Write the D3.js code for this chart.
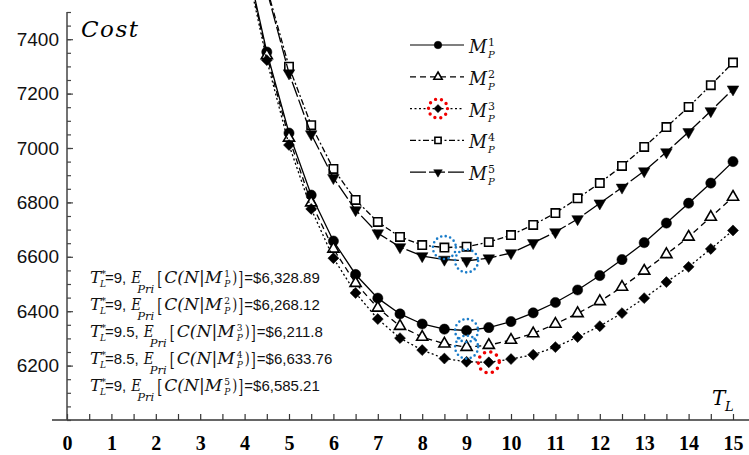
<!DOCTYPE html>
<html>
<head>
<meta charset="utf-8">
<script src="https://cdn.jsdelivr.net/npm/d3@7"></script>
<style>
body { margin: 0; background: #fff; }
</style>
</head>
<body>
<script>
// canvas size
var w = 749;
var h = 455;

// T_L values, step 0.5
var tl = [4, 4.5, 5, 5.5, 6, 6.5, 7, 7.5, 8, 8.5, 9, 9.5, 10, 10.5, 11, 11.5, 12, 12.5, 13, 13.5, 14, 14.5, 15];
// cost of each model (null = not plotted)
var costM1 = [7720, 7353, 7055, 6827, 6658, 6535, 6448, 6390, 6353, 6334, 6329, 6340, 6362, 6394, 6432, 6478, 6531, 6590, 6652, 6724, 6797, 6871, 6950];
var costM2 = [7710, 7340, 7037, 6799, 6629, 6503, 6412, 6345, 6305, 6280, 6268, 6275, 6294, 6318, 6353, 6392, 6436, 6489, 6548, 6609, 6673, 6746, 6820];
var costM3 = [7700, 7323, 7011, 6776, 6595, 6467, 6371, 6301, 6257, 6226, 6214, 6212, 6224, 6240, 6268, 6305, 6345, 6393, 6448, 6507, 6563, 6629, 6697];
var costM4 = [null, 7590, 7299, 7084, 6923, 6809, 6728, 6673, 6643, 6634, 6637, 6654, 6680, 6717, 6761, 6815, 6871, 6934, 7004, 7077, 7151, 7231, 7314];
var costM5 = [null, 7580, 7275, 7051, 6890, 6772, 6687, 6636, 6603, 6590, 6585, 6595, 6614, 6651, 6691, 6739, 6797, 6855, 6915, 6985, 7059, 7136, 7216];

// optimum per model
var optTL = [9, 9, 9.5, 8.5, 9];
var optTLText = ["9", "9", "9.5", "8.5", "9"];
var optCostText = ["6,328.89", "6,268.12", "6,211.8", "6,633.76", "6,585.21"];

// axis ticks
var xMajor = d3.range(0, 16, 1);
var xMinor = d3.range(0, 15.01, 0.5);
var yMajor = [6200, 6400, 6600, 6800, 7000, 7200, 7400];
var yMinor = d3.range(6000, 7501, 50);

var series = [costM1, costM2, costM3, costM4, costM5];
var dashes = [null, "6,4", "2,2.5", "6,2.5,2,2.5", "16,3"];
var markers = ["circle", "triUp", "diamond", "square", "triDown"];

var serifI = "DejaVu Serif";
var serif = "DejaVu Serif";
var sans = "Liberation Sans";

var x = d3.scaleLinear().domain([0, 15]).range([67, 733]);
var y = d3.scaleLinear().domain([6000, 7500]).range([420, 12]);

var svg = d3.select("body").append("svg")
    .attr("width", w)
    .attr("height", h);

// marker shape + style
function marker(sel, kind, big) {
    var k = big ? 1 : 0.55;
    var sym = {
        circle: d3.symbolCircle, triUp: d3.symbolTriangle, diamond: d3.symbolSquare,
        square: d3.symbolSquare, triDown: d3.symbolTriangle
    }[kind];
    var size = { circle: 82, triUp: 54, diamond: 60, square: 70, triDown: 58 }[kind] * k;
    var rot = kind == "diamond" ? 45 : (kind == "triDown" ? 180 : 0);
    var open = kind == "triUp" || kind == "square";
    sel.append("path")
        .attr("d", d3.symbol(sym, size)())
        .attr("transform", function(d) { return "translate(" + d[0] + "," + d[1] + ") rotate(" + rot + ")"; })
        .attr("fill", open ? "#fff" : "#000")
        .attr("stroke", "#000")
        .attr("stroke-width", open ? 1.6 : 0.5);
}

// axes
var gx = svg.append("g").attr("transform", "translate(0,420)");
gx.call(d3.axisBottom(x).tickValues(xMinor).tickSize(-6).tickFormat(""));
gx.append("g").call(d3.axisBottom(x).tickValues(xMajor).tickSize(0).tickPadding(16).tickFormat(d3.format("d")));
gx.selectAll(".domain").remove();
gx.selectAll("line").attr("stroke", "#333").attr("stroke-width", 1.2);
gx.selectAll("text")
    .style("font-family", "'Liberation Serif', serif")
    .attr("font-weight", "bold")
    .attr("font-size", 20)
    .attr("fill", "#000");
gx.append("line").attr("x1", 52).attr("x2", w).attr("stroke", "#333").attr("stroke-width", 1.5);

var gy = svg.append("g").attr("transform", "translate(67,0)");
gy.call(d3.axisLeft(y).tickValues(yMinor).tickSize(-4).tickFormat(""));
gy.append("g").call(d3.axisLeft(y).tickValues(yMajor).tickSizeInner(-6).tickSizeOuter(0).tickPadding(8).tickFormat(d3.format("d")));
gy.selectAll(".domain").remove();
gy.selectAll("line").attr("stroke", "#444").attr("stroke-width", 1.2);
gy.selectAll("text").style("font-family", "'Liberation Sans', sans-serif").attr("font-size", 19).attr("fill", "#111");
gy.append("line").attr("y1", 12).attr("y2", 420).attr("stroke", "#444").attr("stroke-width", 1.5);

svg.append("text").attr("x", 81).attr("y", 37)
    .style("font-family", serifI).attr("font-style", "italic").attr("font-size", 23)
    .attr("letter-spacing", 1.5).text("Cost");
svg.append("text").attr("x", 712).attr("y", 405)
    .style("font-family", serifI).attr("font-style", "italic").attr("font-size", 20).text("T");
svg.append("text").attr("x", 725).attr("y", 411)
    .style("font-family", serifI).attr("font-style", "italic").attr("font-size", 13).text("L");

// curves
var line = d3.line()
    .defined(function(d) { return d[1] != null; })
    .x(function(d) { return x(d[0]); })
    .y(function(d) { return y(d[1]); });

series.forEach(function(s, i) {
    var pts = tl.map(function(t, j) { return [t, s[j]]; });
    svg.append("path")
        .datum(pts)
        .attr("d", line)
        .attr("fill", "none")
        .attr("stroke", "#000")
        .attr("stroke-width", 1.3)
        .attr("stroke-dasharray", dashes[i]);
    var onChart = pts.filter(function(d) { return d[1] != null && d[1] <= 7500; })
        .map(function(d) { return [x(d[0]), y(d[1])]; });
    svg.append("g").selectAll("g").data(onChart).enter().append("g")
        .call(marker, markers[i], true);
});

// optimum rings
series.forEach(function(s, i) {
    var v = s[tl.indexOf(optTL[i])];
    var red = i == 2;
    svg.append("circle")
        .attr("cx", x(optTL[i])).attr("cy", y(v))
        .attr("r", red ? 10.5 : 11.5)
        .attr("fill", "none")
        .attr("stroke", red ? "#f00000" : "#1a7cc9")
        .attr("stroke-width", red ? 3.6 : 2.6)
        .attr("stroke-linecap", "round")
        .attr("stroke-dasharray", red ? "0,6.4" : "0,4.6");
});

// text helper; len forces the width, returns the advance
function run(g, px, py, str, fam, size, italic, len) {
    var t = g.append("text").attr("x", px).attr("y", py)
        .style("font-family", fam).attr("font-size", size)
        .attr("font-style", italic ? "italic" : "normal")
        .attr("fill", "#111")
        .text(str);
    if (len) t.attr("textLength", len).attr("lengthAdjust", "spacingAndGlyphs");
    return len || t.node().getComputedTextLength();
}

// legend
var legend = svg.append("g");
series.forEach(function(s, i) {
    var ry = 45 + i * 31.8;
    legend.append("line").attr("x1", 410).attr("x2", 464).attr("y1", ry).attr("y2", ry)
        .attr("stroke", "#000").attr("stroke-width", 1.2).attr("stroke-dasharray", dashes[i]);
    legend.append("g").datum([438, ry]).call(marker, markers[i], false);
    if (i == 2) {
        legend.append("circle").attr("cx", 438).attr("cy", ry).attr("r", 9.5)
            .attr("fill", "none").attr("stroke", "#f00000").attr("stroke-width", 3.4)
            .attr("stroke-linecap", "round").attr("stroke-dasharray", "0,6");
    }
    run(legend, 469, ry + 8, "M", serifI, 18, true, 18);
    run(legend, 488, ry + 1, String(i + 1), serif, 11, false);
    run(legend, 488, ry + 13, "P", serifI, 10, true);
});

// optimum annotations
var notes = svg.append("g");
optTL.forEach(function(t, i) {
    var yb = 283 + i * 26.9;
    var px = 90;
    run(notes, px, yb, "T", serifI, 17, true, 11);
    run(notes, px + 11, yb - 6, "*", serif, 10, false);
    run(notes, px + 10, yb + 4, "L", serifI, 9, true);
    px += 15;
    px += run(notes, px, yb, "=" + optTLText[i] + ",", sans, 15, false) + 5;
    run(notes, px, yb, "E", serifI, 16, true, 10);
    run(notes, px + 6, yb + 10, "Pri", serifI, 11, true, 17);
    px += 26;
    run(notes, px, yb + 2, "[", serif, 18, false, 5);
    px += 7;
    run(notes, px, yb, "C(N|M", serifI, 16, true, 58);
    px += 60;
    run(notes, px, yb - 6, String(i + 1), serif, 9, false);
    run(notes, px, yb + 4, "P", serifI, 9, true);
    px += 8;
    run(notes, px, yb, ")", serif, 16, false, 5);
    run(notes, px + 6, yb + 2, "]", serif, 18, false, 5);
    px += 12;
    run(notes, px, yb, "=$" + optCostText[i], sans, 15, false);
});
</script>
</body>
</html>
